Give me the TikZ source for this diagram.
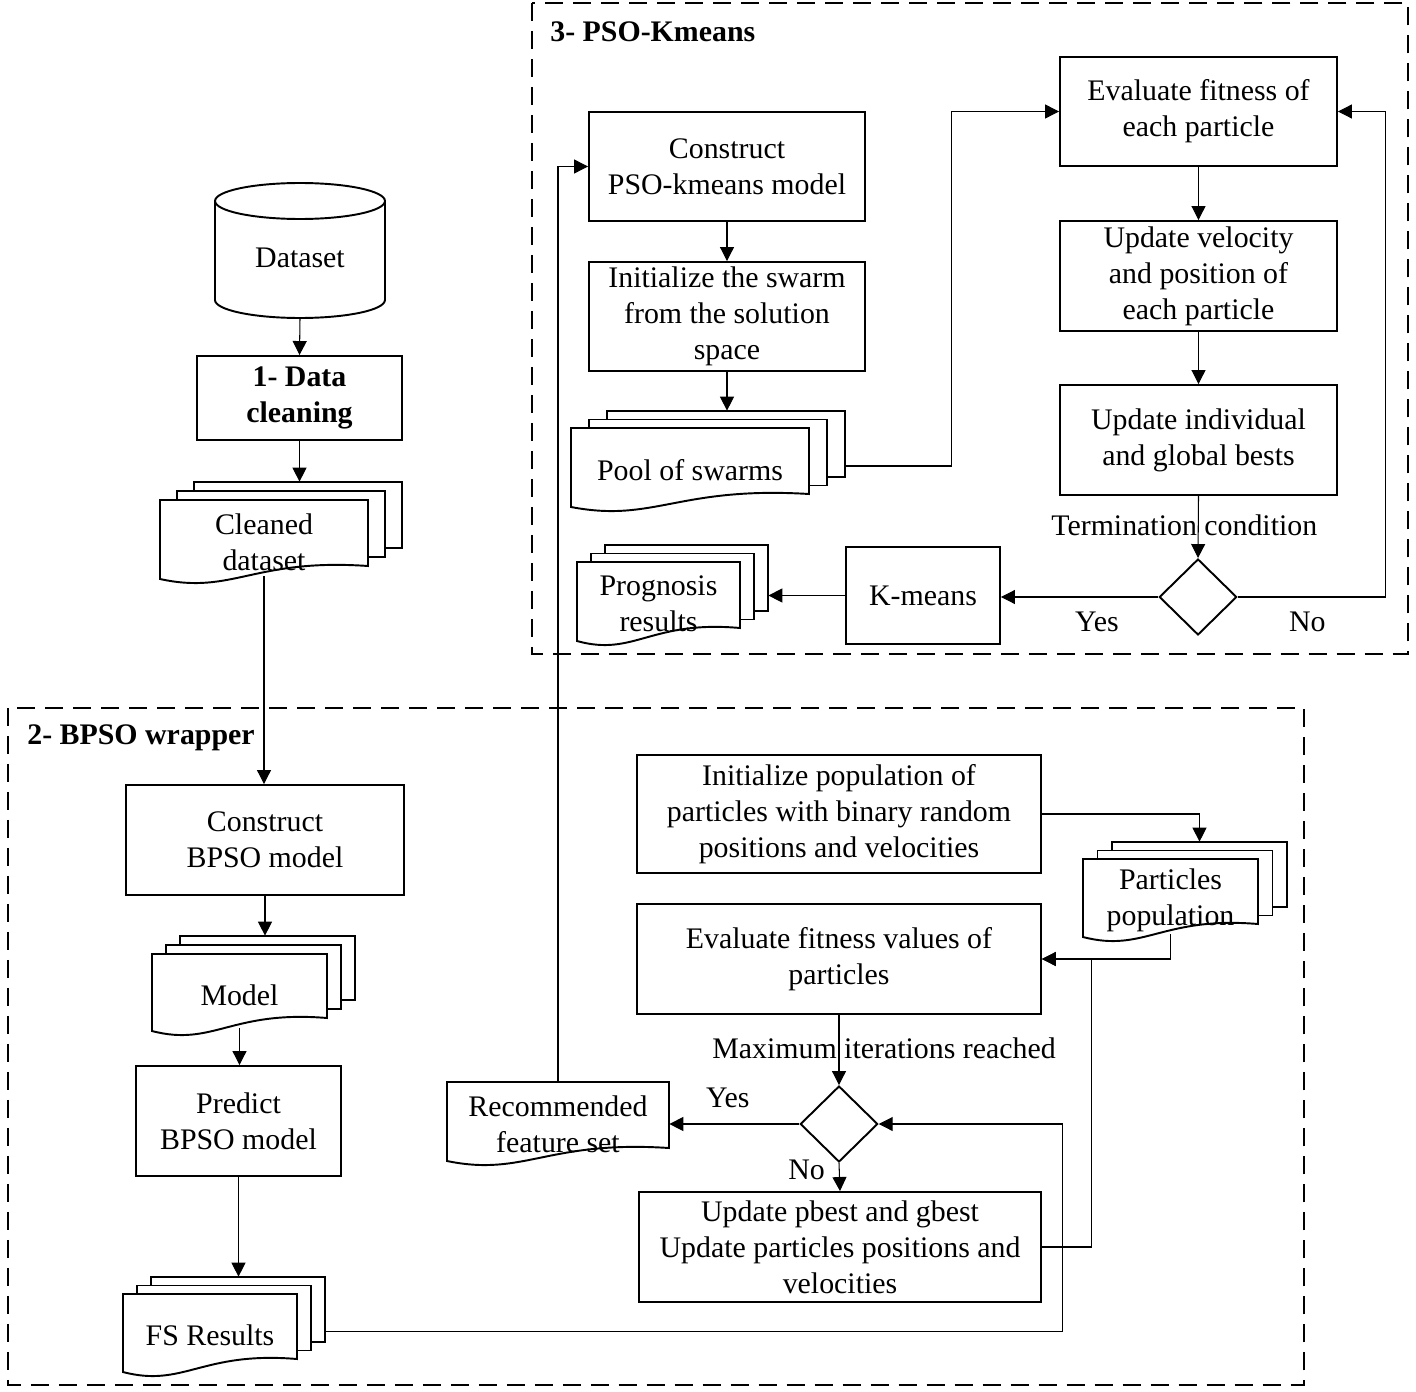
\documentclass[tikz,border=0pt]{standalone}
\usepackage{fontspec}
\setmainfont{Liberation Serif}
\usetikzlibrary{shapes.geometric,arrows.meta}

\tikzset{
  box/.style={draw, line width=1.1pt, inner sep=1pt},
  doc/.style={draw, line width=1.1pt, fill=white},
  dec/.style={draw, diamond, line width=1.1pt, inner sep=0, minimum width=1.55cm, minimum height=1.52cm},
  arr/.style={-{Triangle[length=2.8mm,width=2.8mm]}, line width=0.6pt},
  group/.style={line width=1.6pt, dash pattern=on 0.36cm off 0.2cm},
  ttl/.style={font=\fontsize{17}{20.5}\selectfont\bfseries, anchor=west, inner sep=0},
}

% one document with a wavy bottom: name, left, top, width, height, text
\newcommand{\onedoc}[6]{%
  \draw[doc] (#2,#3) -- ({#2+#4},#3) -- ({#2+#4},{#3+#5})
    .. controls ({#2+0.45*#4},{#3+#5-8}) and ({#2+0.35*#4},{#3+#5+29}) .. (#2,{#3+#5+13}) -- cycle;
  \node[inner sep=0, minimum width={#4*0.02cm}, minimum height={(#5+10)*0.02cm}]
    (#1) at ({#2+#4/2},{#3+(#5+10)/2}) {};
  \node at ([yshift=-0.08cm]#1.center) {#6};
}
% stack of three documents: name, left, top, width, height, dx, dy, text
\newcommand{\docstack}[8]{%
  \foreach \k in {2,1}
    \draw[doc] ({#2+\k*#6},{#3-\k*#7}) rectangle ++(#4,#5);
  \node[inner sep=0, minimum width={#4*0.02cm}, minimum height={#5*0.02cm}]
    (#1-b) at ({#2+2*#6+#4/2},{#3-2*#7+#5/2}) {};
  \onedoc{#1}{#2}{#3}{#4}{#5}{#8}
}

\begin{document}
\begin{tikzpicture}[x=0.02cm, y=-0.02cm, font=\fontsize{17}{20.5}\selectfont,
  every node/.append style={align=center}]
\useasboundingbox (0,0) rectangle (1416,1392);

% frames of the two stages
\draw[group] (532,3) rectangle (1408,654);
\draw[group] (8,708) rectangle (1304,1385);
\node[ttl] at (550,32) {3- PSO-Kmeans};
\node[ttl] at (27,738) {2- BPSO wrapper};

% 1- data cleaning
\node[inner sep=0, minimum width=3.4cm, minimum height=2.7cm] (data) at (300,250.5) {};
\draw[line width=1.1pt] (215,201) -- (215,300) arc (180:360:1.7cm and 0.36cm) -- (385,201);
\draw[line width=1.1pt] (300,201) ellipse (1.7cm and 0.36cm);
\node at ([yshift=-0.15cm]data.center) {Dataset};
\node[box, font=\fontsize{17}{20.5}\selectfont\bfseries, minimum width=4.1cm, minimum height=1.68cm]
  (dc) at (299.5,398) {1- Data\\cleaning};
\docstack{clean}{160}{500}{208}{66}{17}{9}{Cleaned\\dataset}

% 2- BPSO wrapper, left column
\node[box, minimum width=5.56cm, minimum height=2.2cm] (cbm) at (265,840) {Construct\\BPSO model};
\docstack{model}{152}{954}{175}{64}{14}{9}{Model}
\node[box, minimum width=4.1cm, minimum height=2.2cm] (pbm) at (238.5,1121) {Predict\\BPSO model};
\docstack{fs}{123}{1294}{174}{65}{14}{8.5}{FS Results}

% 2- BPSO wrapper, search loop
\node[box, minimum width=8.08cm, minimum height=2.36cm] (ipp) at (839,814)
  {Initialize population of\\particles with binary random\\positions and velocities};
\docstack{pp}{1083}{859}{175}{65}{14.5}{8.5}{Particles\\population}
\node[box, minimum width=8.08cm, minimum height=2.2cm] (efv) at (839,959)
  {Evaluate fitness values of\\particles};
\node[dec] (maxit) at (839,1124) {};
\node[box, minimum width=8.04cm, minimum height=2.2cm] (upd) at (840,1247)
  {Update pbest and gbest\\Update particles positions and\\velocities};
\onedoc{rfs}{447}{1082}{222}{66}{Recommended\\feature set}

% 3- PSO-Kmeans
\node[box, minimum width=5.52cm, minimum height=2.18cm] (cpk) at (727,166.5) {Construct\\PSO-kmeans model};
\node[box, minimum width=5.52cm, minimum height=2.18cm] (isw) at (727,316.5)
  {Initialize the swarm\\from the solution\\space};
\docstack{pool}{571}{428}{238}{66}{18}{8.5}{Pool of swarms}
\node[box, minimum width=5.54cm, minimum height=2.18cm] (efp) at (1198.5,111.5) {Evaluate fitness of\\each particle};
\node[box, minimum width=5.54cm, minimum height=2.2cm] (uvp) at (1198.5,276)
  {Update velocity\\and position of\\each particle};
\node[box, minimum width=5.54cm, minimum height=2.2cm] (uig) at (1198.5,440)
  {Update individual\\and global bests};
\node[dec] (term) at (1198,597) {};
\node[box, minimum width=3.08cm, minimum height=1.94cm] (km) at (923,595.5) {K-means};
\docstack{prog}{577}{562}{163}{66}{14}{8.5}{Prognosis\\results}

% connectors, stage 1 and 2
\draw[arr] (data.south) -- (dc.north);
\draw[arr] (dc.south) -- (dc.south |- clean-b.north);
\draw[arr] (clean.south) -- (clean.south |- cbm.north);
\draw[arr] (cbm.south) -- (cbm.south |- model-b.north);
\draw[arr] (model.south) -- (model.south |- pbm.north);
\draw[arr] (pbm.south) -- (pbm.south |- fs-b.north);
\draw[arr] (fs.center -| fs-b.east) -| ([xshift=3.68cm]maxit.east) -- (maxit.east);
\draw[arr] (ipp.east) -| (pp-b.north);
\draw[arr] (pp.south) |- (efv.east);
\draw[arr] (upd.east) -| ([xshift=1cm]efv.east) -- (efv.east);
\draw[arr] (efv.south) -- (maxit.north) node[pos=0.47, xshift=0.9cm] {Maximum iterations reached};
\draw[arr] (maxit.west) -- (maxit.west -| rfs.east) node[pos=0.55, yshift=0.52cm] {Yes};
\draw[arr] (maxit.south) -- (upd.north) node[midway, xshift=-0.66cm, yshift=0.14cm] {No};
\draw[arr] (rfs.north) |- (cpk.west);

% connectors, stage 3
\draw[arr] (cpk.south) -- (isw.north);
\draw[arr] (isw.south) -- (isw.south |- pool-b.north);
\draw[arr] (pool.center -| pool-b.east) -- ++(106,0) |- (efp.west);
\draw[arr] (efp.south) -- (uvp.north);
\draw[arr] (uvp.south) -- (uig.north);
\draw[arr] (uig.south) -- (term.north) node[pos=0.47, xshift=-0.28cm] {Termination condition};
\draw[arr] (term.west) -- (term.west -| km.east) node[pos=0.39, yshift=-0.5cm] {Yes};
\draw[arr] (term.east) -- ++(148,0) node[pos=0.47, yshift=-0.5cm] {No} |- (efp.east);
\draw[arr] (km.west) -- (km.west -| prog-b.east);
\end{tikzpicture}
\end{document}
